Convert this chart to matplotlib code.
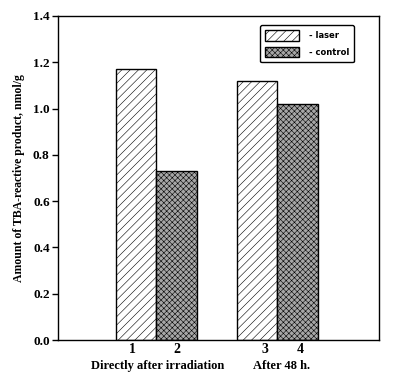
import matplotlib
matplotlib.use("Agg")
import matplotlib.pyplot as plt
from matplotlib.patches import Patch

# data
values = [1.17, 0.73, 1.12, 1.02]
bar_labels = ["1", "2", "3", "4"]
groups = ["Directly after irradiation", "After 48 h."]
legend_names = ["- laser", "- control"]

plt.rcParams["hatch.linewidth"] = 0.4
serif = "Liberation Serif"

laser = dict(facecolor="white", hatch="////")
control = dict(facecolor="#a6a6a6", hatch="xxxxxx")
styles = [laser, control, laser, control]

fig = plt.figure(figsize=(3.96, 3.79), dpi=100)
ax = fig.add_axes([0.1465, 0.1029, 0.8106, 0.8549])

pos = [1.93, 2.93, 4.92, 5.92]
for x, v, st in zip(pos, values, styles):
    ax.bar(x, v, width=1.0, edgecolor="black", linewidth=1.0, **st)

ax.set_xlim(0, 7.93)
ax.set_ylim(0, 1.4)
ax.set_yticks([0.0, 0.2, 0.4, 0.6, 0.8, 1.0, 1.2, 1.4])
ax.set_yticklabels(["%.1f" % t for t in ax.get_yticks()],
                   fontfamily=serif, fontweight="bold", fontsize=9.5)
ax.set_xticks([1.83, 2.94, 5.11, 5.98])
ax.set_xticklabels(bar_labels, fontfamily=serif, fontweight="bold", fontsize=10)
ax.tick_params(axis="x", length=0, pad=2)
ax.tick_params(axis="y", direction="out", length=4, width=1, pad=2)
for s in ax.spines.values():
    s.set_linewidth(1.0)

ax.set_ylabel("Amount of TBA-reactive product, nmol/g", fontfamily=serif,
              fontweight="bold", fontsize=8.5, labelpad=6)

ax.text(2.47, -0.112, groups[0], ha="center", va="center", fontfamily=serif,
        fontweight="bold", fontsize=9, clip_on=False)
ax.text(5.53, -0.112, groups[1], ha="center", va="center", fontfamily=serif,
        fontweight="bold", fontsize=9, clip_on=False)

handles = [Patch(edgecolor="black", **laser),
           Patch(edgecolor="black", **control)]
leg = ax.legend(handles, legend_names, loc="upper right",
                bbox_to_anchor=(0.935, 0.985), fancybox=True,
                prop={"family": "DejaVu Sans", "weight": "bold", "size": 6},
                handlelength=4.0, handleheight=1.6, labelspacing=0.7,
                borderpad=0.6, handletextpad=1.2, framealpha=1)
leg.get_frame().set_edgecolor("black")
leg.get_frame().set_linewidth(1.0)

fig.savefig("out.png", dpi=100)
